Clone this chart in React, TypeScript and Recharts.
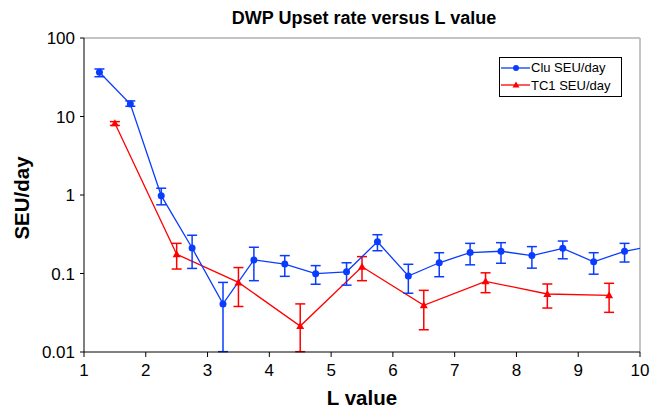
import { LineChart, Line, XAxis, YAxis, ErrorBar, ReferenceLine } from 'recharts';

const FONT = '"Liberation Sans", Arial, sans-serif';
const BLUE = '#0a3cff';
const RED = '#ff0000';

// Clu SEU/day (blue) – last point sits just past the axis end, clipped like the original
const cluL = [1.25, 1.75, 2.25, 2.75, 3.25, 3.75, 4.25, 4.75, 5.25, 5.75, 6.25, 6.75, 7.25, 7.75, 8.25, 8.75, 9.25, 9.75, 10.25];
const cluVal = [36.6, 14.4, 0.98, 0.211, 0.041, 0.149, 0.132, 0.0995, 0.105, 0.254, 0.093, 0.137, 0.185, 0.192, 0.169, 0.209, 0.141, 0.192, 0.227];
const cluHi = [40.3, 15.8, 1.22, 0.307, 0.077, 0.216, 0.169, 0.126, 0.137, 0.312, 0.131, 0.184, 0.242, 0.247, 0.22, 0.259, 0.184, 0.242, 0.227];
const cluLo = [32.1, 13.5, 0.75, 0.116, 0.0101, 0.081, 0.092, 0.073, 0.071, 0.195, 0.056, 0.091, 0.129, 0.135, 0.117, 0.154, 0.098, 0.14, 0.227];

// TC1 SEU/day (red)
const tcL = [1.5, 2.5, 3.5, 4.5, 5.5, 6.5, 7.5, 8.5, 9.5];
const tcVal = [8.19, 0.176, 0.077, 0.0214, 0.122, 0.0393, 0.0795, 0.0548, 0.0527];
const tcHi = [8.6, 0.242, 0.119, 0.041, 0.164, 0.061, 0.102, 0.0735, 0.075];
const tcLo = [7.7, 0.114, 0.038, 0.0101, 0.081, 0.0192, 0.057, 0.0363, 0.032];

const xTicks = [1, 2, 3, 4, 5, 6, 7, 8, 9, 10];
const yTicks = [0.01, 0.1, 1, 10, 100];

const cluData = cluL.map((L, i) => ({ L, v: cluVal[i], err: [cluVal[i] - cluLo[i], cluHi[i] - cluVal[i]] }));
const tcData = tcL.map((L, i) => ({ L, v: tcVal[i], err: [tcVal[i] - tcLo[i], tcHi[i] - tcVal[i]] }));

const Triangle = (props: any) => {
  const { cx, cy } = props;
  if (cx == null || cy == null) return null;
  return <path d={`M${cx},${cy - 4} L${cx + 4},${cy + 3} L${cx - 4},${cy + 3} Z`} fill={RED} stroke="none" />;
};

const Circle = (props: any) => {
  const { cx, cy } = props;
  if (cx == null || cy == null) return null;
  return <circle cx={cx} cy={cy} r={3.5} fill={BLUE} stroke="none" />;
};

const legendItems = [
  { name: 'Clu SEU/day', color: BLUE, tri: false },
  { name: 'TC1 SEU/day', color: RED, tri: true },
];

export default function App() {
  return (
    <div style={{ position: 'absolute', left: 0, top: 0, width: 650, height: 411, background: '#fff', fontFamily: FONT }}>
      <LineChart width={650} height={411} margin={{ top: 38, right: 10, bottom: 29, left: 0 }}>
        <ReferenceLine y={100} stroke="#c4c4c4" strokeWidth={2} />
        <ReferenceLine x={10} stroke="#c4c4c4" strokeWidth={2} />
        <XAxis
          type="number"
          dataKey="L"
          domain={[1, 10]}
          ticks={xTicks}
          allowDataOverflow
          height={30}
          stroke="#000"
          tickSize={5}
          tickMargin={7}
          tick={{ fill: '#000', fontSize: 17, fontFamily: FONT }}
        />
        <YAxis
          type="number"
          scale="log"
          domain={[0.01, 100]}
          ticks={yTicks}
          allowDataOverflow
          width={84}
          stroke="#000"
          tickSize={4}
          tickMargin={5}
          tickFormatter={(v: number) => String(v)}
          tick={{ fill: '#000', fontSize: 17, fontFamily: FONT }}
        />
        <Line data={tcData} dataKey="v" stroke={RED} strokeWidth={1.3} dot={<Triangle />} activeDot={false} isAnimationActive={false}>
          <ErrorBar dataKey="err" direction="y" stroke={RED} strokeWidth={1.5} width={5} />
        </Line>
        <Line data={cluData} dataKey="v" stroke={BLUE} strokeWidth={1.3} dot={<Circle />} activeDot={false} isAnimationActive={false}>
          <ErrorBar dataKey="err" direction="y" stroke={BLUE} strokeWidth={1.5} width={5} />
        </Line>
      </LineChart>
      <svg width={650} height={411} style={{ position: 'absolute', left: 0, top: 0, pointerEvents: 'none' }}>
        <text x={364} y={24} textAnchor="middle" fontSize={18} fontWeight="bold" fontFamily={FONT} fill="#000">
          DWP Upset rate versus L value
        </text>
        <text x={362} y={405} textAnchor="middle" fontSize={20.5} fontWeight="bold" fontFamily={FONT} fill="#000">
          L value
        </text>
        <text
          x={29}
          y={198}
          textAnchor="middle"
          transform="rotate(-90 29 198)"
          fontSize={20.5}
          fontWeight="bold"
          fontFamily={FONT}
          fill="#000"
        >
          SEU/day
        </text>
      </svg>
      <div style={{ position: 'absolute', left: 499, top: 57, width: 121, height: 38, border: '1px solid #000', background: '#fff', fontSize: 13 }}>
        {legendItems.map((it, i) => (
          <div key={it.name} style={{ position: 'absolute', left: 0, top: 1 + i * 17.5, height: 17, display: 'flex', alignItems: 'center' }}>
            <svg width={31} height={16}>
              <line x1={1} y1={8} x2={30} y2={8} stroke={it.color} strokeWidth={1.3} />
              {it.tri ? <path d="M16,4.5 L19.5,10.5 L12.5,10.5 Z" fill={it.color} /> : <circle cx={16} cy={8} r={3} fill={it.color} />}
            </svg>
            <span>{it.name}</span>
          </div>
        ))}
      </div>
    </div>
  );
}
